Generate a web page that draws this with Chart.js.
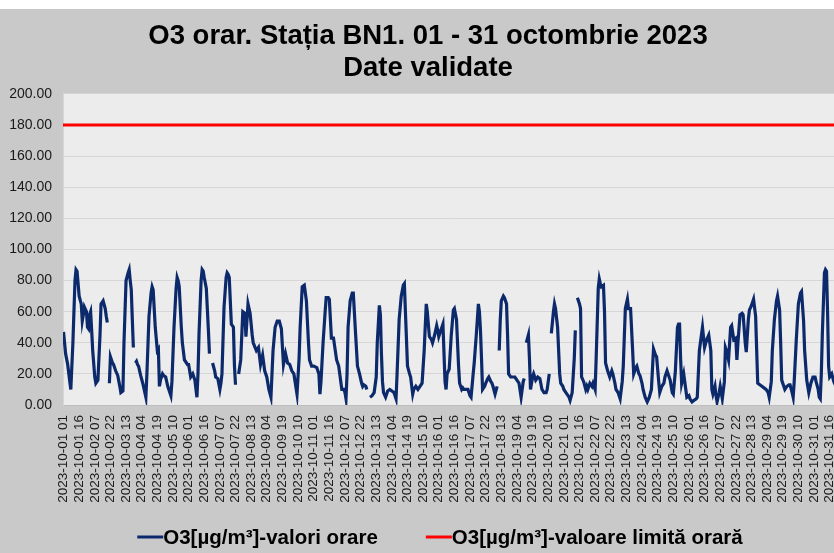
<!DOCTYPE html>
<html lang="ro">
<head>
<meta charset="utf-8">
<title>O3 orar BN1 - octombrie 2023</title>
<script src="https://cdn.jsdelivr.net/npm/chart.js@4.4.1/dist/chart.umd.min.js"></script>
<style>
  html, body { margin: 0; padding: 0; background: #ffffff; overflow: hidden; }
  #wrap { position: absolute; left: 0; top: 9px; width: 856px; height: 544px; }
</style>
</head>
<body>
<div id="wrap"><canvas id="o3Chart" width="856" height="544"></canvas></div>
<script>
// ── Date: ora (index de la 2023-10-01 01) și valoarea O3 ──
// null = lipsă date (linia se întrerupe)
const ore = [
  0, 2, 4, 6, 7, 9, 11, 12, 13, 15, 17, 18, 19, 20, 22, 23,
  24, 25, 26, 27, 28, 30, 31, 33, 35, 36, 38, 40, 41, 42, 43, 44, 45, 47,
  48, 50, 52, 54, 55, 57, 58, 60, 62, 63, 64, 65, 66, 67, 68, 69, 70, 71,
  72, 74, 76, 79, 80, 82, 84, 85, 86, 88, 90, 91, 92, 93, 95,
  96, 98, 100, 103, 104, 106, 108, 109, 110, 111, 113, 114, 116, 118, 119,
  120, 122, 124, 126, 128, 129, 130, 132, 133, 134, 135, 137, 139, 140, 141, 143,
  145, 146, 148, 150, 151, 152, 154, 156, 157, 158, 159, 161, 163, 164, 165, 166,
  168, 170, 172, 174, 175, 177, 179, 181, 182, 185, 187, 189, 191,
  193, 195, 197, 199, 201, 203, 205, 207, 209, 211, 213, 215,
  217, 219, 221, 224, 226, 227, 229, 231, 233, 235, 236, 238,
  240, 243, 245, 246, 247, 249, 251, 252, 254, 255, 257, 259, 262,
  264, 265, 267, 269, 270, 271, 272, 273, 275, 277, 278, 279, 280, 282, 284, 286, 287,
  288, 290, 291, 293, 294, 296, 298, 300, 301, 303, 304, 305, 306, 307, 309, 311,
  313, 315, 317, 319, 320, 322, 324, 326, 327, 328, 330, 332, 333, 335,
  336, 338, 340, 342, 344, 346, 348, 349, 351, 353, 354, 356, 358, 359,
  360, 362, 363, 364, 366, 367, 368, 370, 372, 374, 375, 377, 379, 380, 382, 383,
  384, 386, 388, 390, 391, 393, 394, 396, 398, 399, 400, 401, 402, 404, 405, 407,
  408, 410, 411, 412, 414, 416, 417, 418, 419, 420, 422, 423, 425, 426, 427, 429, 431,
  433, 435, 437, 439, 441, 442, 443, 444, 446, 447, 448, 450, 451, 453, 455,
  457, 459, 461, 463, 464, 466, 467, 468, 470, 471, 472, 474, 476, 477, 479,
  480, 482, 485, 486, 488, 490, 491, 492, 493, 495, 496, 497, 499, 501, 502, 503,
  505, 507, 508, 510, 511, 513, 514, 515, 516, 518, 519, 520, 522, 524, 526, 527,
  529, 530, 532, 534, 536, 537, 539, 541, 542, 544, 546, 547, 549, 550,
  552, 553, 555, 556, 558, 560, 562, 564, 566, 568, 569, 571, 572, 574,
  576, 577, 579, 581, 582, 584, 585, 587, 589, 590, 591, 592, 593, 595, 596, 598,
  600, 601, 603, 605, 607, 608, 610, 611, 613, 615, 617, 619, 620, 621, 622, 623,
  625, 626, 627, 629, 630, 632, 634, 635, 636, 638, 640, 641, 643, 645, 646, 647,
  649, 651, 652, 654, 655, 657, 658, 660, 662, 664, 665, 666, 668, 670,
  672, 674, 676, 677, 679, 680, 682, 684, 685, 687, 688, 689, 691, 692, 694,
  696, 697, 699, 700, 701, 703, 705, 707, 708, 710, 711, 713, 715, 717, 719,
  721, 722, 724, 725, 726, 727, 728, 730, 731, 732, 733, 734, 735, 737, 739, 741, 743
];
const valoriO3 = [
  47, 33, 26, 15, 10, 40, 80, 87, 86, 70, 65, 54, 58, 63, 60, 50,
  49, 58, 60, 48, 35, 18, 14, 16, 45, 65, 67, 62, 57, 53, null, 14, 31, 27,
  26, 22, 19, 12, 8, 9, 40, 80, 85, 87, 80, 74, 55, 37, null, 27, 28, 26,
  25, 19, 14, 5, 20, 57, 72, 76, 74, 50, 35, 36, 12, 16, 20,
  19, 18, 12, 6, 15, 50, 75, 82, 80, 76, 50, 40, 29, 27, 26,
  26, 18, 20, 16, 5, 20, 46, 80, 87, 86, 82, 75, 48, 33, null, 27,
  22, 18, 17, 10, 14, 20, 63, 82, 85, 84, 82, 52, 50, 25, 13, null,
  20, 29, 60, 59, 44, 65, 59, 45, 40, 35, 37, 26, 32,
  22, 18, 10, 5, 35, 50, 54, 54, 49, 26, 33, 27,
  26, 22, 20, 7, 30, 50, 76, 77, 67, 40, 29, 25,
  25, 24, 20, 7, 15, 40, 60, 69, 69, 68, 43, 43, 29,
  25, 20, 10, 10, 8, 4, 20, 50, 67, 72, 72, 60, 48, 25, 20, 14, 12,
  13, 12, 10, null, 5, 6, 8, 18, 40, 64, 58, 33, 15, 8, 5, 9,
  10, 9, 8, 4, 20, 55, 70, 77, 78, 60, 25, 20, 18, 7,
  10, 12, 10, 12, 14, 35, 65, 60, 44, 42, 40, 45, 51, 48,
  44, 48, 50, 52, 15, 10, 20, 23, 45, 61, 62, 55, 25, 14, 10, 11,
  10, 10, 10, 6, 5, 20, 27, 45, 65, 60, 48, 30, 10, 12, 14, 17,
  18, 15, 14, 12, 7, 12, null, 35, 55, 67, 70, 69, 65, 45, 20, 18, 18,
  18, 16, 14, 5, 15, 17, null, 40, 45, 30, 10, 18, 20, 16, 18,
  17, 10, 8, 8, 10, 20, null, 46, 60, 65, 62, 50, 20, 14, 12,
  10, 8, 5, 3, 8, 30, 48, null, 69, 65, 62, 18, 15, 10, 12, 10,
  14, 12, 14, 10, 30, 75, 81, 78, 76, 77, 60, 27, 22, 18, 22, 20,
  14, 10, 8, 4, 15, 25, 62, 68, 62, 62, 35, 20, 24, 25,
  20, 19, 14, 10, 5, 2, 5, 10, 36, 32, 31, 15, 8, 12,
  14, 18, 22, 18, 16, 8, 7, 22, 50, 52, 52, 30, 14, 20, 15, 5,
  6, 4, 2, 3, 4, 5, 35, 40, 50, 37, 42, 45, 40, 35, 10, 7,
  12, 6, 2, 8, 12, 4, 15, 37, 35, 29, 50, 51, 42, 43, 29, 40,
  58, 59, 58, 40, 34, 55, 61, 64, 68, 57, 35, 14, 13, 12,
  11, 10, 8, 5, 15, 35, 55, 67, 70, 61, 40, 16, 12, 10, 12,
  13, 13, 8, 5, 15, 42, 65, 72, 73, 54, 35, 16, 8, 14, 18,
  18, 15, 10, 5, 4, 20, 46, 85, 87, 86, 60, 25, 18, 20, 15, 12, 10
];
const valoareLimita = 180;
const nrOre = 744;          // 31 zile x 24 ore
const pasEticheta = 15;     // o etichetă la 15 ore

// etichetele axei X: "2023-10-DD HH" (ore 01..24)
const pozitiiEtichete = [];
const etichete = {};
for (let h = 0; h < nrOre; h += pasEticheta) {
    const zi = Math.floor(h / 24) + 1;
    const ora = (h % 24) + 1;
    pozitiiEtichete.push(h);
    etichete[h] = "2023-10-" + String(zi).padStart(2, "0") + " " + String(ora).padStart(2, "0");
}

const seriaO3 = ore.map((h, i) => ({ x: h, y: valoriO3[i] }));
const seriaLimita = [{ x: -0.5, y: valoareLimita }, { x: nrOre - 0.5, y: valoareLimita }];

const FONT = "'Liberation Sans', Arial, sans-serif";

// fundal gri + zona graficului gri deschis
const fundal = {
    id: "fundal",
    afterLayout(chart) {
        // titlul centrat pe toată lățimea vizibilă a diagramei
        if (chart.titleBlock) chart.titleBlock.left = 13;
    },
    beforeDraw(chart) {
        const { ctx, chartArea: a } = chart;
        ctx.save();
        ctx.fillStyle = "#c9c9c9";
        ctx.fillRect(0, 0, chart.width, chart.height);
        ctx.fillStyle = "#ececec";
        ctx.fillRect(a.left, a.top, a.right - a.left, a.bottom - a.top);
        ctx.restore();
    }
};

// legenda stil Excel: linie scurtă lipită de text, centrată sub grafic
const legendaJos = {
    id: "legendaJos",
    afterDraw(chart) {
        const ctx = chart.ctx;
        const lungLinie = 26, spatiu = 48, centru = 440, y = 528;
        ctx.save();
        ctx.font = "bold 20.5px " + FONT;
        ctx.textBaseline = "middle";
        const itemi = chart.data.datasets.map(ds => ({
            text: ds.label, color: ds.borderColor, w: lungLinie + ctx.measureText(ds.label).width
        }));
        const total = itemi.reduce((s, it) => s + it.w, 0) + spatiu * (itemi.length - 1);
        let x = centru - total / 2;
        itemi.forEach(it => {
            ctx.strokeStyle = it.color;
            ctx.lineWidth = 3;
            ctx.beginPath();
            ctx.moveTo(x, y);
            ctx.lineTo(x + lungLinie, y);
            ctx.stroke();
            ctx.fillStyle = "#000";
            ctx.fillText(it.text, x + lungLinie, y + 1);
            x += it.w + spatiu;
        });
        ctx.restore();
    }
};

new Chart(document.getElementById("o3Chart").getContext("2d"), {
    type: "line",
    data: {
        datasets: [
            {
                label: "O3[µg/m³]-valori orare",
                data: seriaO3,
                borderColor: "#0c2a6b",
                backgroundColor: "#0c2a6b",
                borderWidth: 3.2,
                pointRadius: 0,
                tension: 0,
                spanGaps: false
            },
            {
                label: "O3[µg/m³]-valoare limită orară",
                data: seriaLimita,
                borderColor: "#ff0000",
                backgroundColor: "#ff0000",
                borderWidth: 3,
                pointRadius: 0
            }
        ]
    },
    options: {
        responsive: false,
        animation: false,
        layout: { padding: { left: 0, right: 13, top: 0, bottom: 48 } },
        plugins: {
            title: {
                display: true,
                text: ["O3 orar. Stația BN1. 01 - 31 octombrie 2023", "Date validate"],
                color: "#000",
                font: { family: FONT, size: 27.5, weight: "bold", lineHeight: 1.18 },
                padding: { top: 11, bottom: 9 }
            },
            legend: { display: false },
            tooltip: { enabled: false }
        },
        scales: {
            x: {
                type: "linear",
                min: -0.5,
                max: nrOre - 0.5,
                afterBuildTicks: (axis) => {
                    axis.ticks = pozitiiEtichete.map(v => ({ value: v }));
                },
                afterFit: (s) => { s.height = 100; },
                ticks: {
                    autoSkip: false,
                    minRotation: 90,
                    maxRotation: 90,
                    padding: 10,
                    color: "#1a1a1a",
                    font: { family: FONT, size: 13.5 },
                    callback: (v) => etichete[v]
                },
                grid: { display: false, drawTicks: false },
                border: { display: true, color: "#bdbdbd", width: 1 }
            },
            y: {
                min: 0,
                max: 200,
                afterFit: (s) => { s.width = 63; },
                ticks: {
                    stepSize: 20,
                    padding: 11,
                    color: "#1a1a1a",
                    font: { family: FONT, size: 14 },
                    callback: (v) => v.toFixed(2)
                },
                grid: { color: "#d6d6d6", drawTicks: false },
                border: { display: true, color: "#d6d6d6" }
            }
        }
    },
    plugins: [fundal, legendaJos]
});
</script>
</body>
</html>
